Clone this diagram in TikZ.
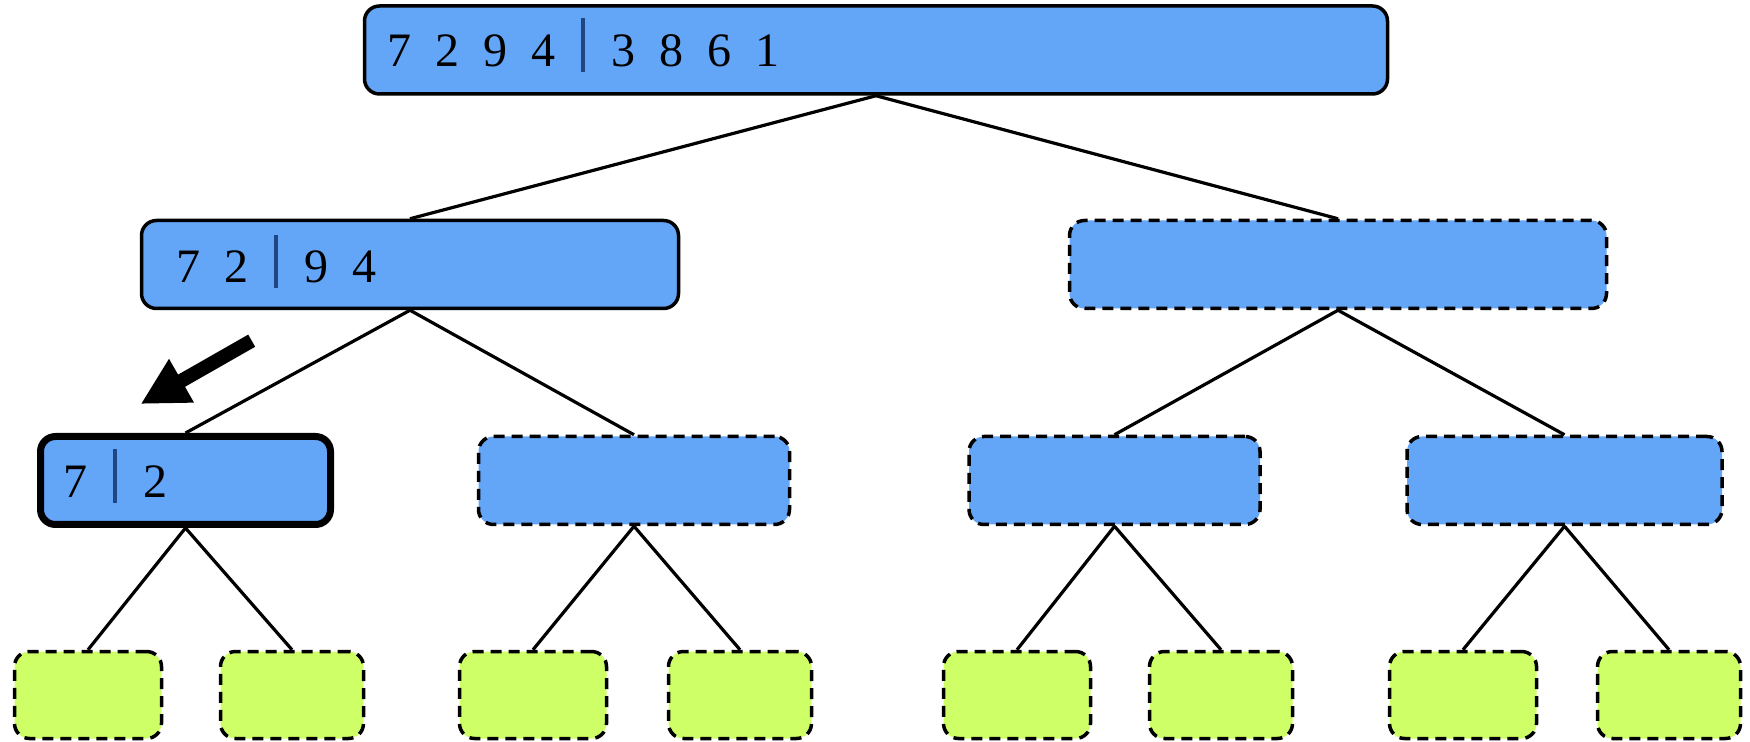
\documentclass[tikz,border=0pt]{standalone}
\usepackage{fontspec}
\setmainfont{Liberation Serif}
\usetikzlibrary{arrows.meta}
\definecolor{boxblue}{RGB}{99,165,247}
\definecolor{leafgreen}{RGB}{207,255,102}
\definecolor{barblue}{RGB}{30,70,130}
\newcommand{\dg}{\hspace{0.5em}}
\newcommand{\sepbar}{\hspace{13pt}\textcolor{barblue}{\rule[-2.75pt]{2pt}{26.75pt}}\hspace{13pt}}
\tikzset{
  blockbox/.style={draw=black, fill=boxblue, line width=1.75pt, rounded corners=7.5pt, inner sep=0pt, minimum height=44pt},
  emptybox/.style={blockbox, dash pattern=on 5.5pt off 3.5pt},
  activebox/.style={blockbox, line width=3.5pt},
  leafbox/.style={emptybox, fill=leafgreen, minimum height=43.5pt},
  digits/.style={anchor=base west, inner sep=0pt, font=\fontsize{24}{28}\selectfont},
  edge/.style={line width=1.6pt, black},
  bigarrow/.style={line width=7pt, black, -{Triangle[length=23.5pt,width=23.5pt]}}
}
\begin{document}
\begin{tikzpicture}[x=0.5pt,y=-0.5pt]
\useasboundingbox (0,0) rectangle (1750,742);
% level 0
\node[blockbox, minimum width=511.5pt] (root) at (876,50) {};
% level 1
\node[blockbox, minimum width=268.5pt] (la) at (410,264.5) {};
\node[emptybox, minimum width=268.5pt] (lb) at (1338,264.5) {};
% level 2
\node[activebox, minimum width=145pt] (ma) at (185.5,480.5) {};
\node[emptybox, minimum width=155.5pt] (mb) at (634,480.5) {};
\node[emptybox, minimum width=145.5pt] (mc) at (1114.5,480.5) {};
\node[emptybox, minimum width=157.5pt] (md) at (1564.5,480.5) {};
% level 3
\node[leafbox, minimum width=73.5pt] (g1) at (88,695) {};
\node[leafbox, minimum width=71.5pt] (g2) at (292,695) {};
\node[leafbox, minimum width=73.5pt] (g3) at (533,695) {};
\node[leafbox, minimum width=71.5pt] (g4) at (740,695) {};
\node[leafbox, minimum width=73.5pt] (g5) at (1017,695) {};
\node[leafbox, minimum width=71.5pt] (g6) at (1221,695) {};
\node[leafbox, minimum width=73.5pt] (g7) at (1463,695) {};
\node[leafbox, minimum width=71.5pt] (g8) at (1669,695) {};
% texts
\node[digits] (roottext) at (387,66.5) {7\dg 2\dg 9\dg 4\sepbar 3\dg 8\dg 6\dg 1};
\node[digits] (latext) at (176,282.7) {7\dg 2\sepbar 9\dg 4};
\node[digits] (matext) at (63,497.3) {7\sepbar 2};
% edges
\draw[edge] (root.south) -- (la.north);
\draw[edge] (root.south) -- (lb.north);
\draw[edge] (la.south) -- (ma.north);
\draw[edge] (la.south) -- (mb.north);
\draw[edge] (lb.south) -- (mc.north);
\draw[edge] (lb.south) -- (md.north);
\draw[edge] (ma.south) -- (g1.north);
\draw[edge] (ma.south) -- (g2.north);
\draw[edge] (mb.south) -- (g3.north);
\draw[edge] (mb.south) -- (g4.north);
\draw[edge] (mc.south) -- (g5.north);
\draw[edge] (mc.south) -- (g6.north);
\draw[edge] (md.south) -- (g7.north);
\draw[edge] (md.south) -- (g8.north);
% arrow
\coordinate (arrowtail) at (251.7,340.7);
\coordinate (arrowtip) at (140.7,404);
\draw[bigarrow] (arrowtail) -- (arrowtip);
\end{tikzpicture}
\end{document}
